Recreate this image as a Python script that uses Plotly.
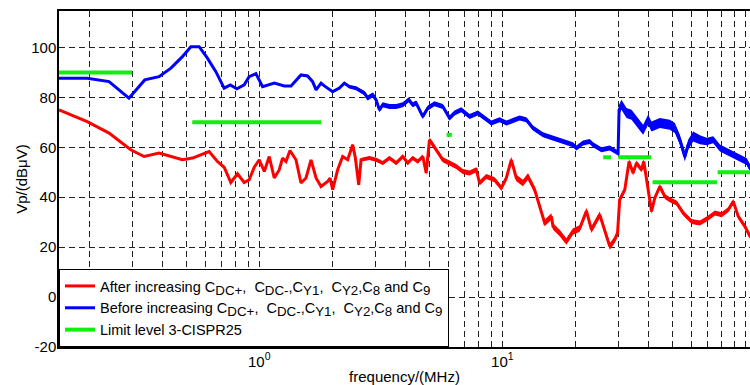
import plotly.graph_objects as go
import math

# ---------------- data (frequency in MHz, level in dBuV) ----------------
after_f = [0.150, 0.196, 0.241, 0.296, 0.336, 0.387, 0.483, 0.531, 0.622, 0.673,
           0.717, 0.764, 0.814, 0.867, 0.909, 0.954, 1.000, 1.049, 1.099, 1.153,
           1.209, 1.247, 1.288, 1.338, 1.416, 1.485, 1.557, 1.633, 1.713, 1.796,
           1.911, 1.956, 2.005, 2.102, 2.204, 2.311, 2.423, 2.486, 2.566, 2.624,
           2.839, 3.026, 3.221, 3.433, 3.659, 3.895, 4.083, 4.281, 4.489, 4.709,
           4.862, 5.017, 5.10, 5.35, 5.692, 6.066, 6.464, 6.88, 7.334, 7.815,
           8.064, 8.592, 9.296, 9.906, 10.39, 10.89, 11.42, 12.16, 12.75, 13.59,
           14.25, 14.94, 15.92, 16.17, 17.22, 18.35, 19.54, 20.82, 22.19, 23.27,
           25.17, 26.40, 27.68, 29.02, 29.8, 30.4, 31.91, 33.24, 34.52, 35.65,
           37.38, 38.21, 39.81, 41.11, 42.41, 44.47, 46.64, 48.90, 52.12, 55.48,
           60.07, 65.02, 70.35, 74.97, 79.87, 85.05, 89.19, 93.48, 99.6, 104.5]
after_v = [75.0, 70.3, 65.7, 59.0, 56.3, 57.7, 55.0, 55.7, 58.3, 54.3,
           52.0, 45.9, 49.4, 45.9, 47.0, 52.0, 55.0, 50.3, 56.3, 47.7,
           51.0, 55.7, 54.3, 58.7, 55.0, 45.7, 47.7, 55.0, 47.7, 44.3,
           46.3, 47.7, 43.0, 51.0, 56.3, 55.0, 61.0, 55.7, 45.0, 55.0,
           55.7, 55.0, 53.7, 55.7, 53.7, 56.3, 53.7, 55.7, 54.3, 56.3,
           49.7, 63.0, 62.0, 59.0, 55.0, 53.7, 52.3, 50.3, 49.7, 51.0,
           45.7, 48.3, 47.0, 43.7, 47.7, 55.0, 47.7, 45.7, 48.3, 43.0,
           36.3, 29.7, 32.3, 28.3, 25.7, 22.3, 26.3, 27.5, 34.5, 27.0,
           33.0, 26.3, 20.3, 23.0, 25.7, 39.0, 43.0, 54.3, 49.7, 53.7,
           51.0, 54.3, 43.0, 34.3, 39.7, 44.3, 40.3, 39.0, 37.7, 33.7,
           30.3, 29.7, 31.7, 33.7, 33.0, 35.0, 38.3, 32.3, 28.3, 24.3]
# half-width (dB) of the noisy band around the "after" trace
after_spread = [0, 0, 0, 0, 0, 0, 0, 0, 0, 0,
                0, 0, 0, 0, 0, 0, 0, 0, 0, 0,
                0, 0, 0, 0, 0, 0, 0, 0, 0, 0,
                0, 0, 0, 0, 0, 0, 0.5, 0.6, 0.6, 0.7,
                0.8, 0.8, 0.8, 0.8, 0.8, 0.8, 0.8, 0.8, 0.8, 0.8,
                0.8, 1.0, 1.0, 1.0, 1.0, 1.0, 1.0, 1.0, 1.0, 1.0,
                1.0, 1.0, 1.0, 1.0, 1.2, 1.2, 1.3, 1.3, 1.3, 1.3,
                1.3, 1.3, 1.3, 1.3, 1.3, 1.3, 1.3, 1.3, 1.3, 1.3,
                1.3, 1.3, 1.3, 1.3, 1.2, 1.0, 1.0, 1.0, 1.0, 1.0,
                1.0, 1.0, 1.0, 1.0, 1.0, 1.0, 1.0, 1.0, 1.0, 1.0,
                1.0, 1.0, 1.0, 1.0, 1.0, 1.0, 1.0, 1.0, 1.0, 1.0]

before_f = [0.150, 0.196, 0.241, 0.291, 0.338, 0.387, 0.433, 0.483, 0.523, 0.566,
            0.612, 0.663, 0.717, 0.760, 0.809, 0.867, 0.909, 0.969, 1.032, 1.153,
            1.268, 1.351, 1.485, 1.581, 1.658, 1.713, 1.796, 1.853, 2.005, 2.136,
            2.240, 2.349, 2.502, 2.708, 2.794, 2.930, 3.026, 3.122, 3.221, 3.433,
            3.659, 3.895, 4.124, 4.281, 4.421, 4.709, 4.937, 5.26, 5.692, 6.066,
            6.361, 6.779, 7.334, 7.937, 8.455, 9.01, 9.75, 10.39, 11.24, 11.79,
            12.56, 13.37, 14.70, 16.17, 17.77, 19.54, 20.18, 21.48, 22.89, 23.62,
            25.58, 27.68, 29.95, 30.23, 30.93, 32.43, 34.01, 36.22, 37.97, 39.81,
            41.11, 44.47, 48.90, 51.28, 53.77, 56.38, 58.17, 61.0, 65.02, 69.29,
            73.75, 78.6, 83.75, 89.19, 95.0, 101.2, 104.5]
before_v = [87.7, 87.7, 86.3, 79.7, 87.0, 88.3, 91.7, 96.3, 100.3, 100.3,
            95.7, 90.3, 83.7, 85.0, 83.4, 85.0, 88.3, 89.5, 84.3, 85.7,
            84.6, 84.6, 89.0, 88.6, 86.3, 83.0, 85.7, 84.6, 82.3, 83.7,
            85.7, 84.3, 83.7, 81.7, 79.7, 81.0, 79.0, 75.0, 77.0, 76.3,
            76.3, 77.0, 79.0, 77.0, 77.7, 72.3, 75.7, 77.4, 76.3, 71.7,
            73.7, 75.0, 72.3, 73.7, 71.7, 69.7, 71.0, 69.7, 71.0, 71.7,
            71.0, 67.7, 65.0, 63.7, 62.3, 61.0, 59.7, 61.7, 62.3, 61.0,
            59.0, 59.7, 57.7, 75.0, 77.0, 73.7, 73.0, 69.7, 67.0, 71.0,
            68.3, 69.7, 69.0, 67.7, 63.0, 56.3, 61.0, 64.3, 63.0, 62.3,
            63.0, 59.7, 58.3, 57.0, 55.7, 54.3, 51.7]
# half-width (dB) of the noisy band around the "before" trace
before_spread = [0, 0, 0, 0, 0, 0, 0, 0, 0, 0,
                 0, 0, 0, 0, 0, 0, 0, 0, 0.3, 0.3,
                 0.3, 0.3, 0.3, 0.3, 0.3, 0.3, 0.3, 0.3, 0.4, 0.5,
                 0.6, 0.7, 0.8, 0.9, 1.0, 1.0, 1.0, 1.0, 1.0, 1.0,
                 1.0, 1.0, 1.0, 1.0, 1.0, 1.0, 1.0, 1.0, 1.0, 1.0,
                 1.0, 1.0, 1.0, 1.0, 1.0, 1.0, 1.0, 1.0, 1.0, 1.0,
                 1.0, 1.0, 1.0, 1.0, 1.0, 1.0, 1.0, 1.0, 1.0, 1.0,
                 1.0, 1.0, 1.0, 2.0, 2.0, 2.0, 2.0, 2.0, 2.0, 2.0,
                 2.0, 2.0, 2.0, 2.0, 2.0, 2.0, 2.0, 2.0, 1.8, 1.5,
                 1.4, 1.4, 1.4, 1.4, 1.4, 1.4, 1.4]

limit_f_start = [0.15, 0.53, 5.9, 26.0, 30.0, 41.5, 76.9]
limit_f_end = [0.30, 1.8, 6.2, 28.0, 41.0, 76.4, 108.0]
limit_v = [90, 70, 65, 56, 56, 46, 50]

x_tick_vals = [1, 10, 100]
x_tick_text = ["10<sup>0</sup>", "10<sup>1</sup>", "10<sup>2</sup>"]
x_minor_vals = [0.2, 0.3, 0.4, 0.5, 0.6, 0.7, 0.8, 0.9,
                2, 3, 4, 5, 6, 7, 8, 9,
                20, 30, 40, 50, 60, 70, 80, 90]
y_tick_vals = [-20, 0, 20, 40, 60, 80, 100]
y_tick_text = ["-20", "0", "20", "40", "60", "80", "100"]

LEG_FS = 14.5


def sub(t):
    return '<sub><span style="font-size:%gpx">%s</span></sub>' % (LEG_FS * 0.92, t)


NB = "\u00a0"
cap_list = ("C" + sub("DC+") + "," + NB + NB + "C" + sub("DC-") + ",C" + sub("Y1")
            + "," + NB + NB + "C" + sub("Y2") + ",C" + sub("8") + " and C" + sub("9"))
names = [
    "After increasing " + cap_list,
    "Before increasing " + cap_list,
    "Limit level 3-CISPR25",
]

RED, BLUE, GREEN = "#ff0000", "#0000ff", "#11ee11"

# ---------------- figure ----------------
def band(fs, vs, ss):
    up = [v + s for v, s in zip(vs, ss)]
    lo = [v - s for v, s in zip(vs, ss)]
    return list(fs) + list(reversed(fs)), up + list(reversed(lo))

lim_x, lim_y = [], []
for a, b, v in zip(limit_f_start, limit_f_end, limit_v):
    lim_x += [a, b, None]
    lim_y += [v, v, None]

fig = go.Figure()
bx, by = band(after_f, after_v, after_spread)
fig.add_trace(go.Scatter(x=bx, y=by, mode="lines", fill="toself", fillcolor=RED,
                         line=dict(width=0, color=RED), showlegend=False,
                         hoverinfo="skip"))
bx, by = band(before_f, before_v, before_spread)
fig.add_trace(go.Scatter(x=bx, y=by, mode="lines", fill="toself", fillcolor=BLUE,
                         line=dict(width=0, color=BLUE), showlegend=False,
                         hoverinfo="skip"))
fig.add_trace(go.Scatter(x=after_f, y=after_v, mode="lines", name=names[0],
                         line=dict(color=RED, width=3)))
fig.add_trace(go.Scatter(x=before_f, y=before_v, mode="lines", name=names[1],
                         line=dict(color=BLUE, width=3)))
fig.add_trace(go.Scatter(x=lim_x, y=lim_y, mode="lines", name=names[2],
                         line=dict(color=GREEN, width=4)))

font_family = "Arial, 'Liberation Sans', sans-serif"
grid_kw = dict(gridcolor="#222222", gridwidth=1, griddash="6px,4px")

fig.update_layout(
    width=750, height=385,
    margin=dict(l=59, r=0, t=11, b=38, autoexpand=False),
    paper_bgcolor="white", plot_bgcolor="white",
    font=dict(family=font_family, size=15, color="black"),
    showlegend=True,
    legend=dict(x=0, y=0, xanchor="left", yanchor="bottom",
                bgcolor="white", bordercolor="black", borderwidth=1,
                font=dict(size=LEG_FS, family=font_family),
                tracegroupgap=0, itemwidth=30),
    xaxis=dict(type="log", range=[math.log10(0.15), math.log10(104.5)],
               tickmode="array", tickvals=x_tick_vals, ticktext=x_tick_text,
               showgrid=True, **grid_kw,
               minor=dict(tickmode="array", tickvals=x_minor_vals, showgrid=True,
                          ticks="", **grid_kw),
               showline=True, linecolor="black", linewidth=1.5, mirror=True,
               ticks="", zeroline=False,
               title=dict(text="frequency/(MHz)", font=dict(size=15), standoff=4),
               automargin=False),
    yaxis=dict(range=[-20, 114.6], tickmode="array", tickvals=y_tick_vals,
               ticktext=y_tick_text, showgrid=True, **grid_kw,
               showline=True, linecolor="black", linewidth=1.5, mirror=False,
               ticks="", zeroline=False, ticklabelstandoff=-2,
               title=dict(text="Vp/(dBμV)", font=dict(size=15), standoff=0),
               automargin=False),
)

fig.write_html("out.html")
